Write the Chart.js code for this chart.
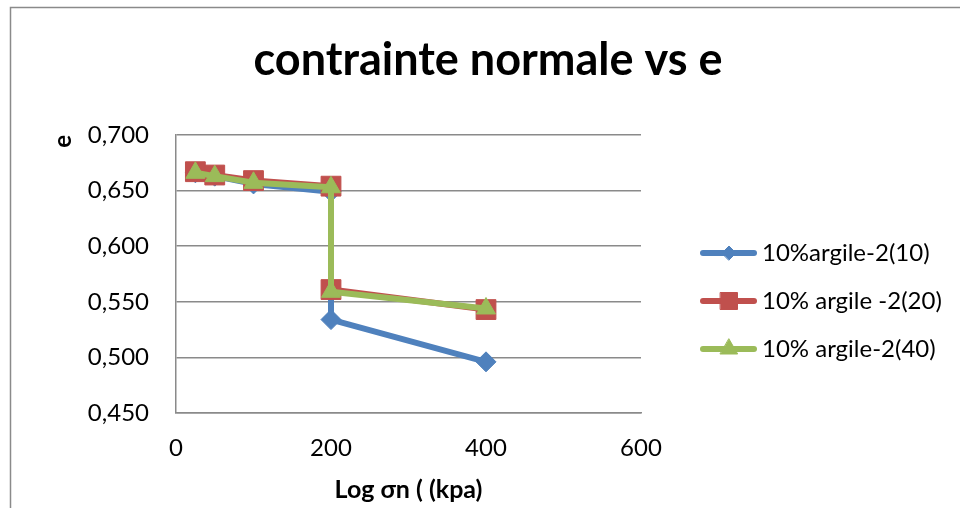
<!DOCTYPE html>
<html>
<head>
<meta charset="utf-8">
<title>contrainte normale vs e</title>
<script src="https://cdn.jsdelivr.net/npm/chart.js@4.4.0/dist/chart.umd.min.js"></script>
<style>
  html, body { margin: 0; padding: 0; background: #fff; }
  #wrap { width: 960px; height: 508px; }
</style>
</head>
<body>
<div id="wrap"><canvas id="chart" width="960" height="508"></canvas></div>
<script>
// contrainte normale (kPa) -> indice des vides e, trois essais
const stressKpa = [25, 50, 100, 200, 200, 400];
const eArgile10 = [0.666, 0.663, 0.656, 0.649, 0.534, 0.496];
const eArgile20 = [0.667, 0.664, 0.659, 0.654, 0.561, 0.543];
const eArgile40 = [0.666, 0.663, 0.657, 0.653, 0.559, 0.544];
const seriesLabels = ['10%argile-2(10)', '10% argile -2(20)', '10% argile-2(40)'];
const yTicks = [0.45, 0.5, 0.55, 0.6, 0.65, 0.7];
const xTicks = [0, 200, 400, 600];

const FONT = 'Lato, "Liberation Sans", sans-serif';
const GRID = '#8a8a8a';
const colors = ['#4F81BD', '#C0504D', '#9BBB59'];
const markers = ['rectRot', 'rect', 'triangle'];
const markerRadius = [10, 14, 11];
const legendRadius = [7, 12, 10];

const toPoints = ys => ys.map((y, i) => ({ x: stressKpa[i], y: y }));

function makeSet(i, values) {
    return {
        label: seriesLabels[i],
        data: toPoints(values),
        order: 2 - i,   // later series sit on top
        showLine: true,
        borderColor: colors[i],
        backgroundColor: colors[i],
        borderWidth: 6,
        borderJoinStyle: 'round',
        pointStyle: markers[i],
        pointRadius: markerRadius[i],
        pointHoverRadius: markerRadius[i],
        pointBackgroundColor: colors[i],
        pointBorderColor: colors[i],
        pointBorderWidth: 1
    };
}

// frame, title and the line+marker legend on the right
const sheetDecor = {
    id: 'sheetDecor',
    beforeDraw(chart) {
        const ctx = chart.ctx;
        ctx.save();
        ctx.fillStyle = '#fff';
        ctx.fillRect(0, 0, chart.width, chart.height);
        ctx.strokeStyle = GRID;
        ctx.lineWidth = 1.5;
        ctx.beginPath();
        ctx.moveTo(10.5, chart.height);
        ctx.lineTo(10.5, 7.5);
        ctx.lineTo(chart.width, 7.5);
        ctx.stroke();
        ctx.restore();
    },
    afterDraw(chart) {
        const ctx = chart.ctx;
        ctx.save();
        ctx.fillStyle = '#000';
        ctx.font = 'bold 45px ' + FONT;
        ctx.textAlign = 'center';
        ctx.textBaseline = 'middle';
        ctx.fillText('contrainte normale vs e', 488, 60);

        ctx.font = '24px ' + FONT;
        ctx.textAlign = 'left';
        chart.data.datasets.forEach((ds, i) => {
            const y = 253 + i * 48;
            ctx.strokeStyle = ds.borderColor;
            ctx.fillStyle = ds.borderColor;
            ctx.lineWidth = 6;
            ctx.lineCap = 'round';
            ctx.beginPath();
            ctx.moveTo(703, y);
            ctx.lineTo(754, y);
            ctx.stroke();
            ctx.lineWidth = 1;
            Chart.helpers.drawPoint(ctx, {
                pointStyle: ds.pointStyle, rotation: 0,
                radius: legendRadius[i], borderWidth: 1
            }, 729, y);
            ctx.fillStyle = '#000';
            ctx.fillText(ds.label, 762, y);
        });
        ctx.restore();
    }
};

new Chart(document.getElementById('chart'), {
    type: 'scatter',
    data: {
        datasets: [
            makeSet(0, eArgile10),
            makeSet(1, eArgile20),
            makeSet(2, eArgile40)
        ]
    },
    options: {
        responsive: false,
        animation: false,
        devicePixelRatio: 1,
        layout: { padding: { left: 10, top: 135, right: 319, bottom: 0 } },
        plugins: {
            legend: { display: false },
            title: { display: false },
            tooltip: { enabled: false }
        },
        scales: {
            x: {
                type: 'linear',
                min: xTicks[0],
                max: xTicks[xTicks.length - 1],
                afterBuildTicks: s => { s.ticks = xTicks.map(v => ({ value: v })); },
                afterFit: s => { s.height = 95; },
                grid: { display: false, drawTicks: false },
                border: { display: true, color: GRID, width: 1.5 },
                ticks: { padding: 21, color: '#000', font: { family: FONT, size: 24 } },
                title: {
                    display: true,
                    text: 'Log σn ( (kpa)',
                    color: '#000',
                    font: { family: FONT, size: 25, weight: 'bold' },
                    padding: { top: 0, bottom: 3 }
                }
            },
            y: {
                type: 'linear',
                min: yTicks[0],
                max: yTicks[yTicks.length - 1],
                afterBuildTicks: s => { s.ticks = yTicks.map(v => ({ value: v })); },
                afterFit: s => { s.width = 166; },
                grid: { color: GRID, lineWidth: 1.5, drawTicks: false },
                border: { display: true, color: GRID, width: 1.5 },
                ticks: {
                    padding: 27,
                    color: '#000',
                    font: { family: FONT, size: 24 },
                    callback: v => v.toFixed(3).replace('.', ',')
                },
                title: {
                    display: true,
                    text: 'e',
                    align: 'end',
                    color: '#000',
                    font: { family: FONT, size: 24, weight: 'bold' },
                    padding: { top: 39, bottom: 0 }
                }
            }
        }
    },
    plugins: [sheetDecor]
});
</script>
</body>
</html>
